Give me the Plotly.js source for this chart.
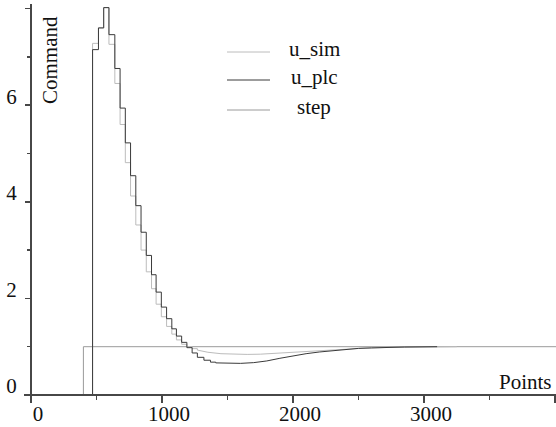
<!DOCTYPE html>
<html>
<head>
<meta charset="utf-8">
<script src="https://cdn.plot.ly/plotly-3.0.1.min.js"></script>
<style>html,body{margin:0;padding:0;background:#fff;}#chart{width:556px;height:427px;}</style>
</head>
<body>
<div id="chart"></div>
<script>
// ---- data ----
const seriesNames = ['u_sim', 'u_plc', 'step'];

const stepT = [0, 400, 4100];
const stepV = [0, 1, 1];

const plcStairT = [0, 470, 515, 555, 595, 640, 680, 720, 760, 800, 840, 880, 920, 955, 995, 1035, 1075, 1110, 1150, 1190, 1230, 1270, 1320, 1370, 1410];
const plcStairV = [0, 7.15, 7.6, 8.02, 7.46, 6.76, 5.94, 5.22, 4.54, 3.92, 3.37, 2.89, 2.49, 2.13, 1.82, 1.58, 1.37, 1.22, 1.09, 0.98, 0.87, 0.78, 0.72, 0.68, 0.665];
const plcTailT = [1410, 1500, 1600, 1700, 1800, 1900, 2000, 2100, 2200, 2300, 2400, 2500, 2600, 2700, 2850, 3100];
const plcTailV = [0.665, 0.655, 0.655, 0.67, 0.705, 0.76, 0.815, 0.855, 0.89, 0.92, 0.945, 0.965, 0.975, 0.985, 0.993, 1.0];

const simStairT = [0, 470, 515, 555, 595, 640, 680, 720, 760, 800, 840, 880, 920, 955, 995, 1035, 1075, 1110, 1150, 1190, 1230, 1270];
const simStairV = [0, 7.28, 7.6, 8.02, 7.26, 6.45, 5.6, 4.81, 4.12, 3.52, 3.0, 2.55, 2.2, 1.88, 1.62, 1.42, 1.26, 1.14, 1.05, 1.0, 0.96, 0.93];
const simTailT = [1270, 1350, 1450, 1550, 1650, 1750, 1850, 1950, 2050, 2150, 2250, 2350, 2450, 2550, 2700, 2900, 3250];
const simTailV = [0.93, 0.885, 0.855, 0.843, 0.84, 0.845, 0.86, 0.875, 0.895, 0.915, 0.935, 0.95, 0.96, 0.97, 0.983, 0.993, 1.0];

const xTickVals = [0, 1000, 2000, 3000, 4000];
const xTickText = ['0', '1000', '2000', '3000', ''];
const yTickVals = [0, 2, 4, 6, 8];
const yTickText = ['0', '2', '4', '6', ''];

// ---- styling ----
const FONT = 'Liberation Serif, Times New Roman, DejaVu Serif, serif';
const colors = { u_sim: '#bcbcbc', u_plc: '#3a3a3a', step: '#9a9a9a' };
const axisColor = '#474747';

const W = 556, H = 427;
const M = { l: 24, r: 0, t: 4, b: 25 };
const xRange = [-53.4, 4007.6];
const yRange = [-0.145, 8.095];
const pw = W - M.l - M.r, ph = H - M.t - M.b;
const px = v => (v - M.l) / pw;
const py = v => (H - M.b - v) / ph;
const xPos = (0 - yRange[0]) / (yRange[1] - yRange[0]);
const yPos = (0 - xRange[0]) / (xRange[1] - xRange[0]);

const line = (c) => ({ color: c, width: 1 });
const traces = [
  { x: stepT, y: stepV, mode: 'lines', line: Object.assign(line(colors.step), { shape: 'hv' }), name: 'step', hoverinfo: 'skip' },
  { x: simStairT, y: simStairV, mode: 'lines', line: Object.assign(line(colors.u_sim), { shape: 'hv' }), name: 'u_sim', hoverinfo: 'skip' },
  { x: simTailT, y: simTailV, mode: 'lines', line: line(colors.u_sim), name: 'u_sim', hoverinfo: 'skip' },
  { x: plcStairT, y: plcStairV, mode: 'lines', line: Object.assign(line(colors.u_plc), { shape: 'hv' }), name: 'u_plc', hoverinfo: 'skip' },
  { x: plcTailT, y: plcTailV, mode: 'lines', line: line(colors.u_plc), name: 'u_plc', hoverinfo: 'skip' }
];

const tickFont = { family: FONT, size: 21, color: '#111' };
const baseX = { range: xRange, showgrid: false, zeroline: false, fixedrange: true, anchor: 'free', position: xPos };
const baseY = { range: yRange, showgrid: false, zeroline: false, fixedrange: true, anchor: 'free', position: yPos };

const layout = {
  width: W, height: H, margin: M, showlegend: false,
  font: { family: FONT, size: 21, color: '#111' },
  paper_bgcolor: '#fff', plot_bgcolor: '#fff',
  xaxis: Object.assign({}, baseX, {
    showline: true, linecolor: axisColor, linewidth: 2,
    ticks: 'outside', ticklen: 7, tickwidth: 1.5, tickcolor: axisColor,
    tickmode: 'array', tickvals: xTickVals, ticktext: xTickText,
    minor: { ticks: 'outside', ticklen: 4, tickwidth: 1.5, tickcolor: axisColor, dtick: 500, tick0: 0 },
    tickfont: tickFont, ticklabelshift: 7, ticklabelstandoff: -7
  }),
  xaxis2: Object.assign({}, baseX, {
    overlaying: 'x', showline: false, showticklabels: false,
    ticks: 'inside', ticklen: 7, tickwidth: 1.5, tickcolor: axisColor,
    tickmode: 'array', tickvals: xTickVals,
    minor: { ticks: 'inside', ticklen: 4, tickwidth: 1.5, tickcolor: axisColor, dtick: 500, tick0: 0 }
  }),
  yaxis: Object.assign({}, baseY, {
    showline: true, linecolor: axisColor, linewidth: 2,
    ticks: 'outside', ticklen: 5, tickwidth: 1.5, tickcolor: axisColor,
    tickmode: 'array', tickvals: yTickVals, ticktext: yTickText,
    minor: { ticks: 'outside', ticklen: 3, tickwidth: 1.5, tickcolor: axisColor, dtick: 1, tick0: 0 },
    tickfont: tickFont, ticklabelshift: -9, ticklabelstandoff: 4
  }),
  yaxis2: Object.assign({}, baseY, {
    overlaying: 'y', showline: false, showticklabels: false,
    ticks: 'inside', ticklen: 8, tickwidth: 1.5, tickcolor: axisColor,
    tickmode: 'array', tickvals: yTickVals,
    minor: { ticks: 'inside', ticklen: 5, tickwidth: 1.5, tickcolor: axisColor, dtick: 1, tick0: 0 }
  }),
  annotations: [
    { text: 'Command', xref: 'paper', yref: 'paper', x: px(50), y: py(60), textangle: -90,
      xanchor: 'center', yanchor: 'middle', showarrow: false, font: { family: FONT, size: 21, color: '#111' } },
    { text: 'Points', xref: 'paper', yref: 'paper', x: px(525), y: py(382),
      xanchor: 'center', yanchor: 'middle', showarrow: false, font: { family: FONT, size: 21, color: '#111' } }
  ],
  shapes: []
};

// custom legend (centered labels, as in the reference)
const legendRows = [52, 80, 110];
seriesNames.forEach((n, i) => {
  layout.shapes.push({ type: 'line', xref: 'paper', yref: 'paper', x0: px(227), x1: px(270), y0: py(legendRows[i]), y1: py(legendRows[i]),
    line: { color: colors[n], width: 1 } });
  layout.annotations.push({ text: n, xref: 'paper', yref: 'paper', x: px(314), y: py(legendRows[i] - 3),
    xanchor: 'center', yanchor: 'middle', showarrow: false, font: { family: FONT, size: 21, color: '#111' } });
});

Plotly.newPlot('chart', traces, layout, { staticPlot: true, displayModeBar: false });
</script>
</body>
</html>
